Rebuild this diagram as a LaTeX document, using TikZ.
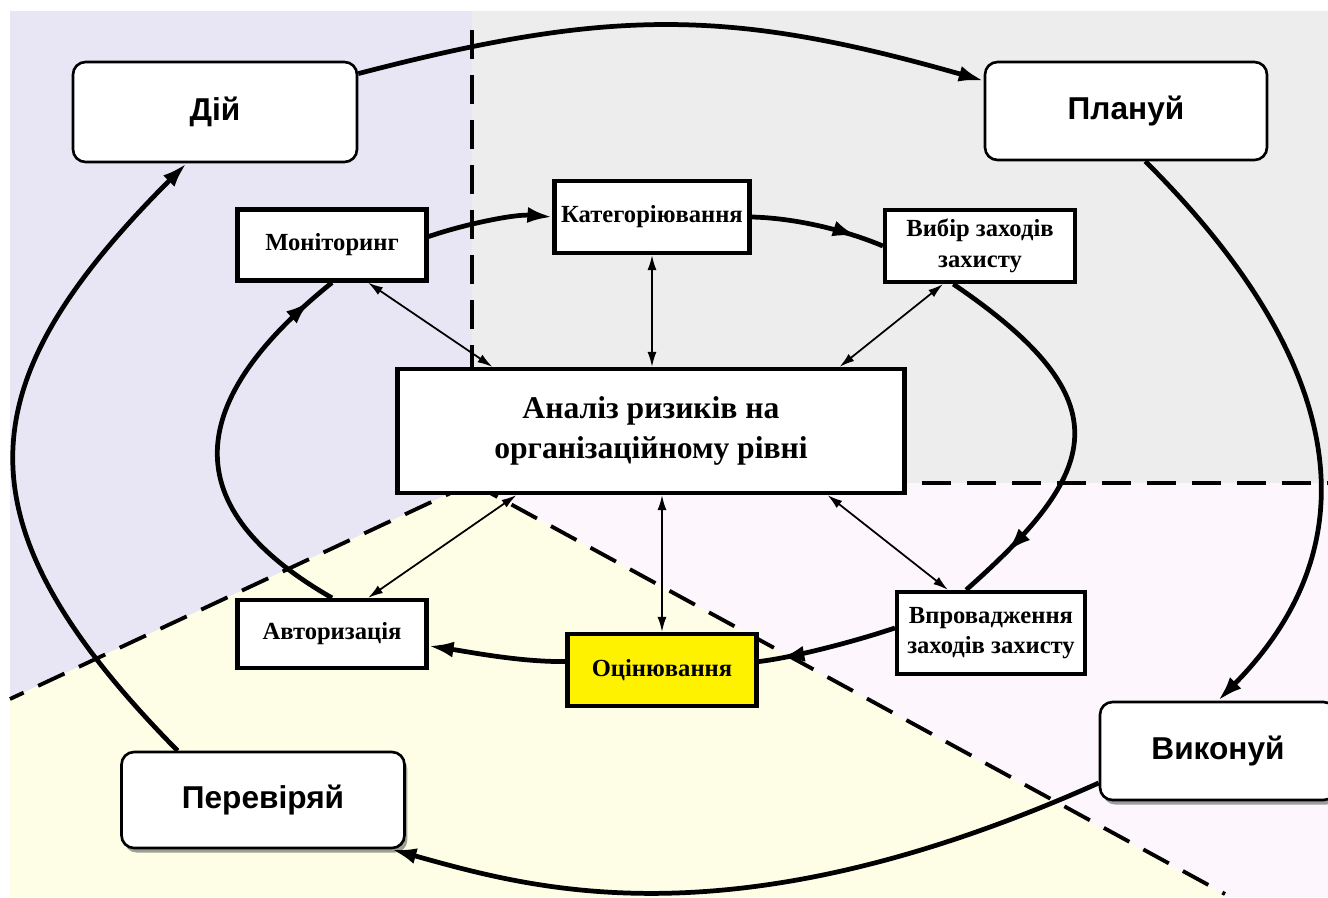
\documentclass[tikz,border=0pt]{standalone}
\usepackage{fontspec}
\setmainfont{Liberation Serif}
\setsansfont{Liberation Sans}
\usepackage{tikz}
\usetikzlibrary{calc}
\usetikzlibrary{arrows.meta}
\usetikzlibrary{decorations.markings}
\usetikzlibrary{shadows}

\definecolor{lavbg}{HTML}{E8E6F5}
\definecolor{greybg}{HTML}{EDEDED}
\definecolor{pinkbg}{HTML}{FDF6FD}
\definecolor{yelbg}{HTML}{FEFEE6}

\tikzset{
  phase/.style = {draw, line width=1.5pt, rounded corners=0.25cm, fill=white,
    font=\sffamily\bfseries\fontsize{18}{22}\selectfont,
    minimum width=5.68cm, minimum height=2cm},
  phaseshadow/.style = {phase, drop shadow={shadow xshift=1.6pt, shadow yshift=-2.6pt, fill=black!75}},
  stage/.style = {draw, line width=2.4pt, fill=white, align=center, inner sep=2pt,
    font=\bfseries\fontsize{14}{17.5}\selectfont,
    minimum width=3.78cm, minimum height=1.42cm},
  flow/.style = {line width=2.7pt},
  flowtip/.style = {flow, -{Latex[length=0.5cm,width=0.32cm]}},
  midtip/.style = {postaction={decorate}, decoration={markings,
    mark=at position #1 with {\arrow{Latex[length=0.5cm,width=0.32cm]}}}},
  relation/.style = {line width=1pt, {Latex[length=0.3cm,width=0.18cm]}-{Latex[length=0.3cm,width=0.18cm]}},
  zoneline/.style = {line width=2.2pt, dash pattern=on 0.58cm off 0.32cm},
}

\begin{document}
\begin{tikzpicture}[x=0.02cm, y=-0.02cm]
  \useasboundingbox (0,0) rectangle (1328,897);

  % zones
  \coordinate (c) at (472,483);
  \fill[lavbg] (10,11) -- (472,11) -- (c) -- (10,699) -- cycle;
  \fill[greybg] (472,11) -- (1328,11) -- (1328,483) -- (c) -- cycle;
  \fill[pinkbg] (c) -- (1328,483) -- (1328,897) -- (1227,897) -- cycle;
  \fill[yelbg] (c) -- (1227,897) -- (10,897) -- (10,699) -- cycle;
  \draw[zoneline] (472,30) -- (c);
  \draw[zoneline] (c) -- (1328,483);
  \draw[zoneline] (c) -- (1225,894);
  \draw[zoneline] (c) -- (10,699);

  % PDCA
  \node[phase] (dij) at (215,112) {Дій};
  \node[phase, minimum width=5.64cm, minimum height=1.96cm] (planuy) at (1126,111) {Плануй};
  \node[phaseshadow, minimum width=4.72cm, minimum height=1.96cm] (vykon) at (1218,751) {Виконуй};
  \node[phaseshadow, minimum width=5.66cm, minimum height=1.92cm] (perev) at (263,800) {Перевіряй};

  % stages
  \node[stage, minimum width=10.14cm, minimum height=2.48cm,
    font=\bfseries\fontsize{18}{22.7}\selectfont] (anal) at (651,431) {Аналіз ризиків на\\організаційному рівні};
  \node[stage] (monit) at (332,245) {Моніторинг};
  \node[stage, minimum width=3.9cm, minimum height=1.44cm] (kateh) at (652,217) {Категоріювання};
  \node[stage, minimum width=3.8cm, minimum height=1.44cm] (vybir) at (980,246) {Вибір заходів\\захисту};
  \node[stage, minimum height=1.36cm] (avtor) at (332,634) {Авторизація};
  \node[stage, fill=yellow, minimum height=1.44cm] (ocin) at (662,670) {Оцінювання};
  \node[stage, minimum width=3.76cm, minimum height=1.64cm] (vprov) at (991,633) {Впровадження\\заходів захисту};

  % outer cycle
  \draw[flowtip] (dij.15) .. controls (610,8) and (729,8) .. (planuy.168);
  \draw[flowtip] (planuy.-69) .. controls (1335,350) and (1382,535) .. (vykon.north);
  \draw[flowtip] (vykon.195) .. controls (731,947) and (534,889) .. (perev.-21);
  \draw[flowtip] (perev.150) .. controls (-50,520) and (-32,382) .. (dij.241);

  % inner cycle
  \draw[flowtip] (monit.5) .. controls (465,224) and (515,214) .. (kateh.west);
  \draw[flow, midtip=0.8] (kateh.east) .. controls (795,218) and (845,230) .. (vybir.west);
  \draw[flow, midtip=0.86] (vybir.235) .. controls (1127,402) and (1099,472) .. (vprov.120);
  \draw[flow, midtip=0.85] (vprov.177) .. controls (850,643) and (790,658) .. (ocin.5);
  \draw[flowtip] (ocin.175) .. controls (520,662) and (470,652) .. (avtor.-7);
  \draw[flow, midtip=0.93] (avtor.north) .. controls (163,501) and (196,392) .. (monit.south);

  % links to the analysis
  \draw[relation] ($(monit.south)+(36,0)$) -- ($(anal.north west)+(97,0)$);
  \draw[relation] (kateh.south) -- (kateh.south |- anal.north);
  \draw[relation] ($(vybir.south)+(-37,0)$) -- ($(anal.north east)+(-67,0)$);
  \draw[relation] ($(avtor.north)+(36,0)$) -- ($(anal.south west)+(121,0)$);
  \draw[relation] (ocin.north) -- (ocin.north |- anal.south);
  \draw[relation] ($(vprov.north)+(-43,0)$) -- ($(anal.south east)+(-79,0)$);
\end{tikzpicture}
\end{document}
